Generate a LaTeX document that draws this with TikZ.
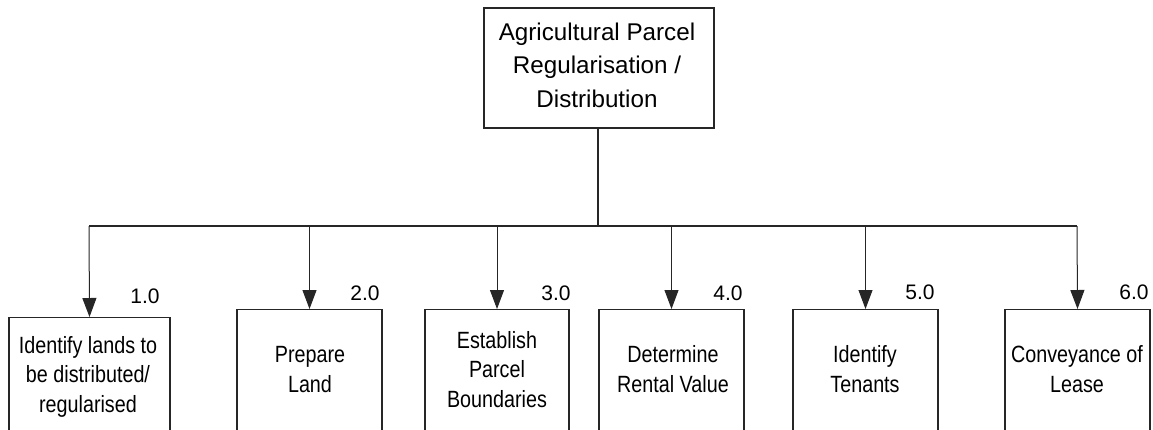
\documentclass[tikz,border=0pt]{standalone}
\usepackage{fontspec}
\setmainfont{Liberation Sans}
\newfontfamily\narrowfont{Liberation Sans}[FakeStretch=0.84]
\usetikzlibrary{arrows.meta}
\begin{document}
\begin{tikzpicture}[x=1pt,y=-1pt,
  box/.style={draw=black!85, line width=1.1pt, minimum width=#1, minimum height=200pt, anchor=north, inner sep=0pt},
  topbox/.style={draw=black!85, line width=1.1pt, minimum width=230pt, minimum height=120pt, inner sep=0pt},
  toptxt/.style={align=center, inner sep=0pt, anchor=base, font=\fontsize{24.2}{33.5}\selectfont},
  txt/.style={align=center, inner sep=0pt, anchor=base, font=\narrowfont\fontsize{23.5}{29.5}\selectfont},
  num/.style={inner sep=0pt, anchor=base, font=\fontsize{21}{25}\selectfont},
  link/.style={draw=black!85, line width=1pt},
  arr/.style={link, -{Triangle[width=14pt,length=19pt]}}
]
\useasboundingbox (0,0) rectangle (1153,429);
\clip (0,0) rectangle (1153,429);

% top box
\node[topbox] (top) at (599,68) {};
\node[toptxt] (tt) at (597,107) {Agricultural Parcel\\Regularisation /\\Distribution};

% child boxes
\node[box=161pt] (b1) at (89.5,317) {};
\node[box=145pt] (b2) at (309.5,309) {};
\node[box=144pt] (b3) at (497,309) {};
\node[box=145pt] (b4) at (671.5,309) {};
\node[box=145pt] (b5) at (865.5,309) {};
\node[box=145pt] (b6) at (1077.5,309) {};

% texts in boxes (anchored at last baseline)
\node[txt] (t1) at (88,412) {Identify lands to\\be distributed/\\regularised};
\node[txt] (t2) at (310,392) {Prepare\\Land};
\node[txt] (t3) at (497,407) {Establish\\Parcel\\Boundaries};
\node[txt] (t4) at (673,392) {Determine\\Rental Value};
\node[txt] (t5) at (865,392) {Identify\\Tenants};
\node[txt] (t6) at (1077,392) {Conveyance of\\Lease};

% numbers
\node[num] (n1) at (145,303) {1.0};
\node[num] (n2) at (365,300) {2.0};
\node[num] (n3) at (556,300) {3.0};
\node[num] (n4) at (728,300) {4.0};
\node[num] (n5) at (920,299) {5.0};
\node[num] (n6) at (1134,299) {6.0};

% connectors
\coordinate (j) at (598,226);
\coordinate (l) at (89,226);
\coordinate (r) at (1077,226);
\draw[link, line width=1.6pt] (top.south -| j) -- (j);
\draw[link, line width=1.4pt] (l) -- (r);
\draw[arr] (l) -- (b1.north);
\draw[arr] (b2.north |- j) -- (b2.north);
\draw[arr] (b3.north |- j) -- (b3.north);
\draw[arr] (b4.north |- j) -- (b4.north);
\draw[arr] (b5.north |- j) -- (b5.north);
\draw[arr] (r) -- (b6.north);
\end{tikzpicture}
\end{document}
